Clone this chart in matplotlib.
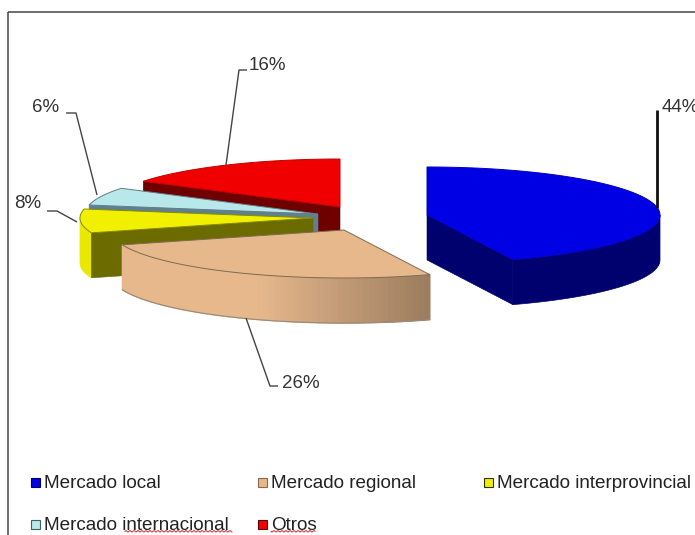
import numpy as np
import matplotlib
matplotlib.use("Agg")
import matplotlib.pyplot as plt
from matplotlib.patches import Polygon, Rectangle

plt.rcParams['font.family'] = ['Liberation Sans', 'DejaVu Sans']

# data
labels = ['Mercado local', 'Mercado regional', 'Mercado interprovincial',
          'Mercado internacional', 'Otros']
values = [44, 26, 8, 6, 16]
pct_labels = ['44%', '26%', '8%', '6%', '16%']

# colours
top_col = ['#0000e4', '#e6b88c', '#f0f000', '#b9e8ea', '#f00000']
side_col = ['#00006e', '#e6b88c', '#e8e800', '#5f8090', '#6e0000']
cut_col = ['#00006e', '#a07a55', '#6b6b00', '#5f8090', '#6e0000']
edge_col = ['#0000c0', '#7f6a52', '#8a8a00', '#607f88', '#c00000']
swatch_edge = ['#000060', '#8a6a48', '#303000', '#406060', '#600000']

# layout, pixels
cx = [427, 344, 313, 318, 340]
cy = [215, 230, 218, 214, 207]
rx = 233
ry = 48
depth = 45
order = [4, 3, 2, 1, 0]

leaders = [
    ([657, 657], [208, 110], '#111111', 2.0),
    ([246, 270, 278], [318, 386, 386], '#444444', 1.0),
    ([77, 57, 47], [222, 211, 211], '#444444', 1.0),
    ([97, 76, 66], [195, 113, 113], '#444444', 1.0),
    ([226, 239, 247], [165, 70, 70], '#444444', 1.0),
]
pct_pos = [(662, 107), (282, 384), (14, 204), (32, 108), (249, 65)]
leg_pos = [(31, 483), (258, 483), (484, 483), (31, 525), (258, 525)]


def ell(i, a):
    a = np.radians(a)
    return cx[i] + rx * np.sin(a), cy[i] - ry * np.cos(a)


fig = plt.figure(figsize=(6.95, 5.35), dpi=100)
ax = fig.add_axes([0, 0, 1, 1])
ax.set_xlim(0, 695)
ax.set_ylim(535, 0)
ax.axis('off')

# frame
ax.add_patch(Rectangle((8, 12), 800, 700, fill=False, ec='#555555', lw=1.2))

ends = np.cumsum(values) * 3.6
starts = ends - np.array(values) * 3.6

for i in order:
    a0, a1 = starts[i], ends[i]

    # outer wall, only the front half can be seen
    w0, w1 = max(a0, 90), min(a1, 270)
    if w1 > w0:
        aa = np.linspace(w0, w1, 61)
        xs, ys = ell(i, aa)
        wall = np.column_stack([np.r_[xs, xs[::-1]], np.r_[ys, ys[::-1] + depth]])
        ax.add_patch(Polygon(wall, fc=side_col[i], ec=side_col[i], lw=0.5))
        if i == 1:
            # tan wall gets darker to the right
            base = np.array(matplotlib.colors.to_rgb(side_col[i]))
            for j in range(60):
                t = np.clip((xs[j] - 260) / 170, 0, 1)
                col = base * (1 - 0.32 * t)
                ax.add_patch(Polygon([(xs[j], ys[j]), (xs[j + 1], ys[j + 1]),
                                      (xs[j + 1], ys[j + 1] + depth), (xs[j], ys[j] + depth)],
                                     fc=col, ec=col, lw=1.0))
            ax.plot(xs, ys + depth, color='#9a8a78', lw=0.8)

    # cut faces
    cuts = []
    if 180 < a0 < 360:
        cuts.append(a0)
    if a1 < 180:
        cuts.append(a1)
    for a in cuts:
        xa, ya = ell(i, a)
        ax.add_patch(Polygon([(cx[i], cy[i]), (xa, ya), (xa, ya + depth),
                              (cx[i], cy[i] + depth)], fc=cut_col[i], ec=cut_col[i], lw=0.4))

    # top surface
    aa = np.linspace(a0, a1, 100)
    xs, ys = ell(i, aa)
    pts = np.column_stack([np.r_[cx[i], xs], np.r_[cy[i], ys]])
    ax.add_patch(Polygon(pts, fc=top_col[i], ec=edge_col[i], lw=0.7))

# leader lines and percentages
for i in range(len(values)):
    lx, ly, lc, lw = leaders[i]
    ax.plot(lx, ly, color=lc, lw=lw, solid_capstyle='butt')
    ax.text(pct_pos[i][0], pct_pos[i][1], pct_labels[i], fontsize=13.5, color='#333333',
            va='center', ha='left')

# legend
for i in range(len(labels)):
    x, y = leg_pos[i]
    ax.add_patch(Rectangle((x, y - 5.5), 9, 9, fc=top_col[i], ec=swatch_edge[i], lw=0.8))
    ax.text(x + 13, y, labels[i], fontsize=13.6, color='#222222', va='center', ha='left')

# spell checker squiggles under the second legend row
for x0, x1 in [(125, 232), (271, 315)]:
    xs = np.arange(x0, x1 + 1, 1.0)
    ax.plot(xs, 530.5 + np.abs((xs % 4) - 2) * 0.8, color='#d03030', lw=0.7)

fig.savefig('out.png', dpi=100)
